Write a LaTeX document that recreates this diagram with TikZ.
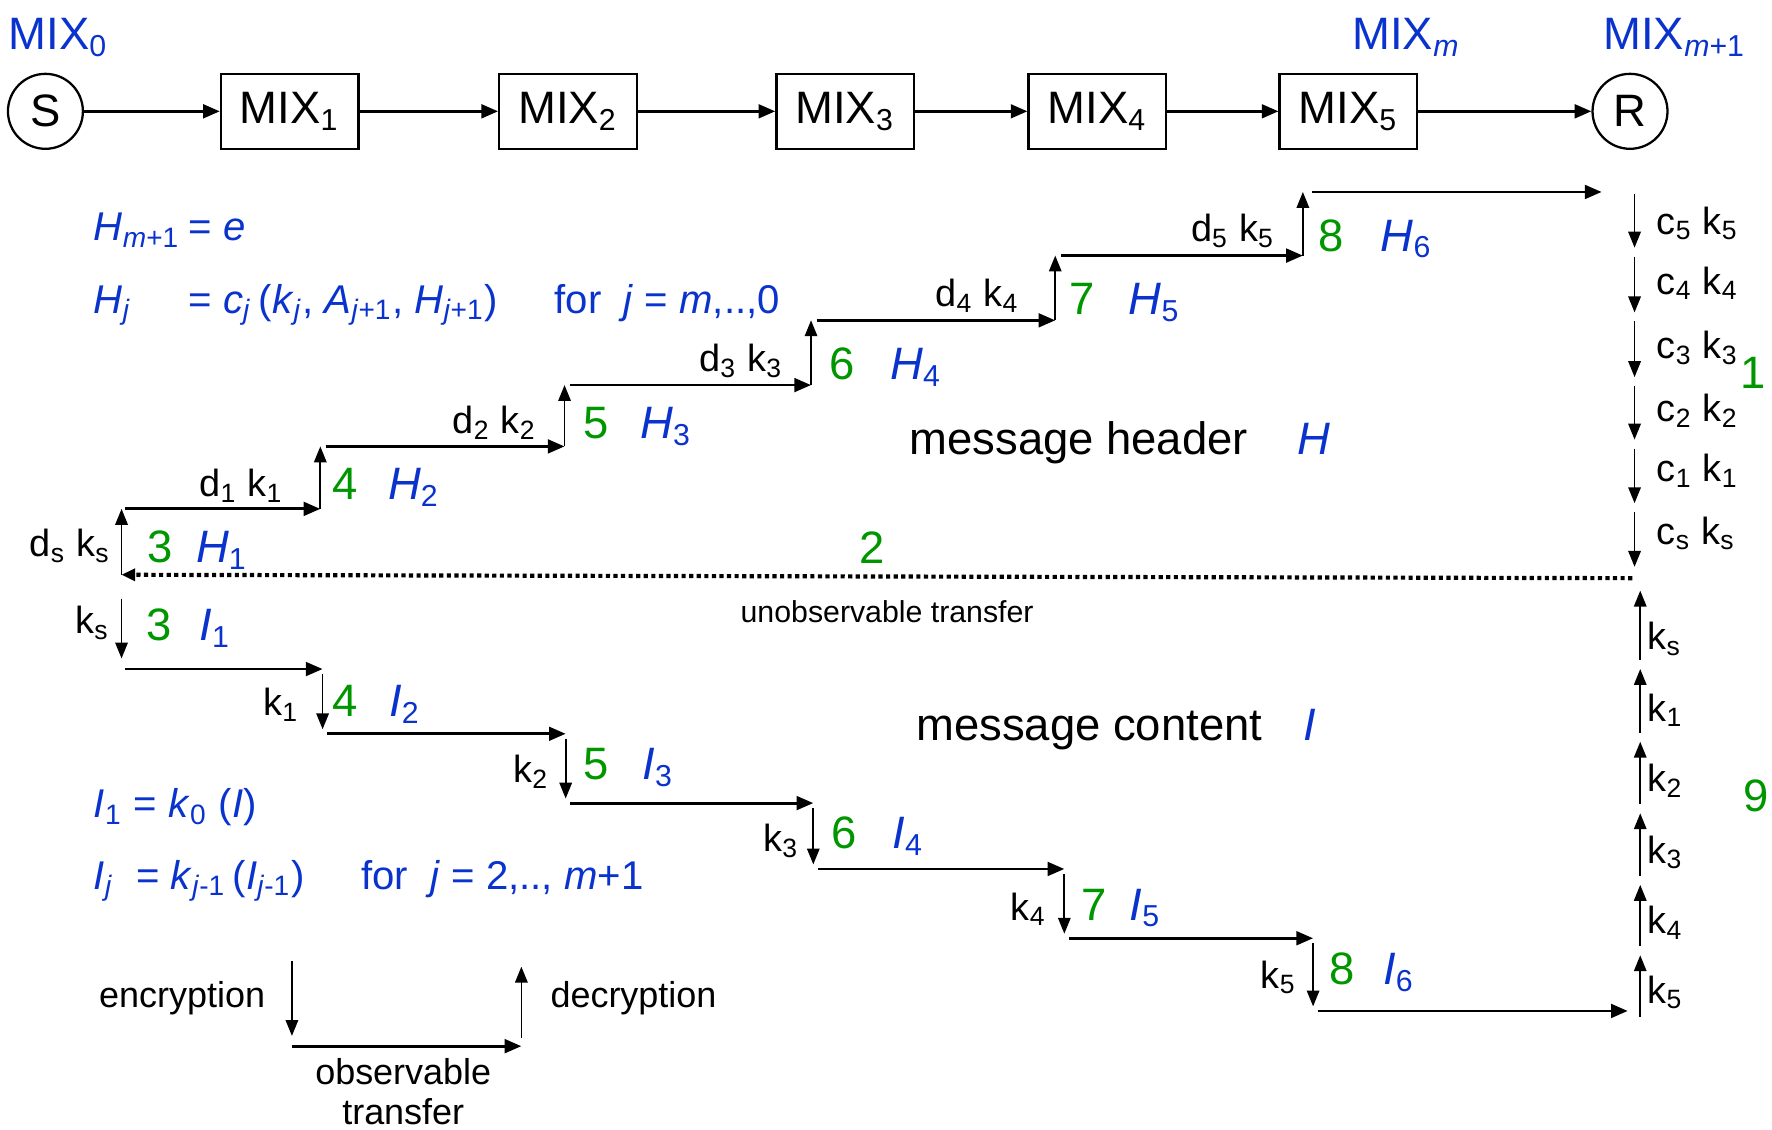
\documentclass[tikz,border=0pt]{standalone}
\usepackage{fontspec}
\setmainfont{Liberation Sans}
\usetikzlibrary{positioning,arrows.meta}
\definecolor{mixblue}{RGB}{10,50,205}
\definecolor{stepgreen}{RGB}{0,150,0}
\newcommand{\sbs}[1]{\textsubscript{#1}}
\tikzset{
  mixbox/.style={draw, line width=0.6pt, minimum width=36.3pt, minimum height=19.8pt, inner sep=0pt, font=\fontsize{12}{14}\selectfont},
  endcircle/.style={circle, draw, line width=0.6pt, minimum size=19.8pt, inner sep=0pt, font=\fontsize{12}{14}\selectfont},
  fwd/.style={-{Triangle[length=4.4pt,width=3.6pt]}, line width=0.75pt},
  keyarrow/.style={-{Triangle[length=4.2pt,width=3.3pt]}, line width=0.45pt},
  hidden/.style={-{Triangle[length=3.6pt,width=3.2pt]}, line width=1.1pt, dash pattern=on 1.1pt off 0.9pt},
  bigtext/.style={inner sep=0pt, font=\fontsize{12}{14}\selectfont},
  formula/.style={inner sep=0pt, text=mixblue, font=\fontsize{10.6}{13}\selectfont},
  lbl/.style={inner sep=0pt, font=\fontsize{10}{12}\selectfont},
  legendtext/.style={inner sep=0pt, font=\fontsize{9.5}{11}\selectfont},
  notetext/.style={inner sep=0pt, font=\fontsize{8}{10}\selectfont},
  stepno/.style={bigtext, text=stepgreen},
  hname/.style={bigtext, text=mixblue},
}

\begin{document}
\begin{tikzpicture}[x=0.3pt, y=-0.3pt]
  \useasboundingbox (0,0) rectangle (1560,994);

  % mix cascade
  \node[endcircle] (S) at (40,98) {S};
  \node[mixbox] (mix1) at (255,98) {MIX\sbs{1}};
  \node[mixbox] (mix2) at (500,98) {MIX\sbs{2}};
  \node[mixbox] (mix3) at (744,98) {MIX\sbs{3}};
  \node[mixbox] (mix4) at (966,98) {MIX\sbs{4}};
  \node[mixbox] (mix5) at (1187,98) {MIX\sbs{5}};
  \node[endcircle] (R) at (1435,98) {R};
  \node[hname, anchor=base west] (mix0lbl) at (7,44) {MIX\sbs{0}};
  \node[hname, anchor=base west] (mixmlbl) at (1190,44) {MIX\sbs{\textit{m}}};
  \node[hname, anchor=base west] (mixnlbl) at (1411,44) {MIX\sbs{\textit{m}+1}};

  \draw[fwd] (S) -- (mix1);
  \draw[fwd] (mix1) -- (mix2);
  \draw[fwd] (mix2) -- (mix3);
  \draw[fwd] (mix3) -- (mix4);
  \draw[fwd] (mix4) -- (mix5);
  \draw[fwd] (mix5) -- (R);

  % header formulas
  \node[formula, anchor=base west] (hform1) at (82,212) {\makebox[25pt][l]{\textit{H}\sbs{\textit{m}+1}}= \textit{e}};
  \node[formula, anchor=base west] (hform2) at (82,276) {\makebox[25pt][l]{\textit{H}\sbs{\textit{j}}}= \textit{c}\sbs{\textit{j}}\,(\textit{k}\sbs{\textit{j}}, \textit{A}\sbs{\textit{j}+1}, \textit{H}\sbs{\textit{j}+1})\hspace{15pt}for \ \textit{j} = \textit{m},..,0};

  % header steps (decryption)
  \coordinate (hb1) at (107,506);
  \coordinate (ht1) at (107,448);
  \coordinate (hb2) at (282,448);
  \coordinate (ht2) at (282,393);
  \coordinate (hb3) at (497,393);
  \coordinate (ht3) at (497,339);
  \coordinate (hb4) at (714,339);
  \coordinate (ht4) at (714,282);
  \coordinate (hb5) at (929,282);
  \coordinate (ht5) at (929,225);
  \coordinate (hb6) at (1147,225);
  \coordinate (ht6) at (1147,169);
  \coordinate (hend) at (1410,169);

  \draw[keyarrow] (hb1) -- (ht1);
  \draw[fwd, shorten <=1pt] (ht1) -- (hb2);
  \draw[keyarrow] (hb2) -- (ht2);
  \draw[fwd, shorten <=1.5pt] (ht2) -- (hb3);
  \draw[keyarrow] (hb3) -- (ht3);
  \draw[fwd, shorten <=1.5pt] (ht3) -- (hb4);
  \draw[keyarrow] (hb4) -- (ht4);
  \draw[fwd, shorten <=1.5pt] (ht4) -- (hb5);
  \draw[keyarrow] (hb5) -- (ht5);
  \draw[fwd, shorten <=1.5pt] (ht5) -- (hb6);
  \draw[keyarrow] (hb6) -- (ht6);
  \draw[fwd, shorten <=2.5pt] (ht6) -- (hend);

  \node[lbl, anchor=base east] (dks) at (98,490) {d\sbs{s} k\sbs{s}};
  \node[lbl, anchor=base east] (dk1) at (250,437) {d\sbs{1} k\sbs{1}};
  \node[lbl, anchor=base east] (dk2) at (473,382) {d\sbs{2} k\sbs{2}};
  \node[lbl, anchor=base east] (dk3) at (690,327) {d\sbs{3} k\sbs{3}};
  \node[lbl, anchor=base east] (dk4) at (898,270) {d\sbs{4} k\sbs{4}};
  \node[lbl, anchor=base east] (dk5) at (1123,213) {d\sbs{5} k\sbs{5}};

  \node[stepno, anchor=base west] (hn3) at (129,495) {3};
  \node[hname, anchor=base west] (H1) at (172,495) {\textit{H}\sbs{1}};
  \node[stepno, anchor=base west] (hn4) at (292,440) {4};
  \node[hname, anchor=base west] (H2) at (341,440) {\textit{H}\sbs{2}};
  \node[stepno, anchor=base west] (hn5) at (513,386) {5};
  \node[hname, anchor=base west] (H3) at (563,386) {\textit{H}\sbs{3}};
  \node[stepno, anchor=base west] (hn6) at (730,334) {6};
  \node[hname, anchor=base west] (H4) at (783,334) {\textit{H}\sbs{4}};
  \node[stepno, anchor=base west] (hn7) at (941,277) {7};
  \node[hname, anchor=base west] (H5) at (993,277) {\textit{H}\sbs{5}};
  \node[stepno, anchor=base west] (hn8) at (1160,221) {8};
  \node[hname, anchor=base west] (H6) at (1215,221) {\textit{H}\sbs{6}};

  \node[bigtext, anchor=base west] (header) at (800,400) {message header\hspace{13pt}{\color{mixblue}\textit{H}}};

  % encryption of the header at the sender
  \coordinate (cc0) at (1439,167);
  \coordinate (cc1) at (1439,222);
  \coordinate (cc2) at (1439,279);
  \coordinate (cc3) at (1439,336);
  \coordinate (cc4) at (1439,391);
  \coordinate (cc5) at (1439,447);
  \coordinate (cc6) at (1439,503);
  \draw[keyarrow, shorten <=1.2pt, shorten >=1.2pt] (cc0) -- (cc1);
  \draw[keyarrow, shorten <=1.2pt, shorten >=1.2pt] (cc1) -- (cc2);
  \draw[keyarrow, shorten <=1.2pt, shorten >=1.2pt] (cc2) -- (cc3);
  \draw[keyarrow, shorten <=1.2pt, shorten >=1.2pt] (cc3) -- (cc4);
  \draw[keyarrow, shorten <=1.2pt, shorten >=1.2pt] (cc4) -- (cc5);
  \draw[keyarrow, shorten <=1.2pt, shorten >=1.2pt] (cc5) -- (cc6);
  \node[lbl, anchor=base west] (ck5) at (1458,206) {c\sbs{5} k\sbs{5}};
  \node[lbl, anchor=base west] (ck4) at (1458,259) {c\sbs{4} k\sbs{4}};
  \node[lbl, anchor=base west] (ck3) at (1458,316) {c\sbs{3} k\sbs{3}};
  \node[lbl, anchor=base west] (ck2) at (1458,371) {c\sbs{2} k\sbs{2}};
  \node[lbl, anchor=base west] (ck1) at (1458,424) {c\sbs{1} k\sbs{1}};
  \node[lbl, anchor=base west] (cks) at (1458,479) {c\sbs{s} k\sbs{s}};
  \node[stepno, anchor=base west] (n1) at (1532,342) {1};

  % unobservable transfer
  \coordinate (sendl) at (1437,509);
  \draw[hidden] (sendl) -- (hb1);
  \node[stepno, anchor=base west] (n2) at (756,496) {2};
  \node[notetext, anchor=base] (unobs) at (781,548) {unobservable transfer};

  % content steps
  \coordinate (ct1) at (107,527);
  \coordinate (cb1) at (107,589);
  \coordinate (cb2) at (284,646);
  \coordinate (cb3) at (498,707);
  \coordinate (cb4) at (716,765);
  \coordinate (cb5) at (937,826);
  \coordinate (cb6) at (1156,890);
  \coordinate (cend) at (1433,890);

  \draw[keyarrow, shorten >=2.8pt] (ct1) -- (cb1);
  \draw[fwd, shorten <=1pt] (cb1) -- (cb1 -| cb2);
  \draw[keyarrow, shorten <=1.3pt, shorten >=1.2pt] (cb1 -| cb2) -- (cb2);
  \draw[fwd, shorten <=1.2pt] (cb2) -- (cb2 -| cb3);
  \draw[keyarrow, shorten <=1.3pt, shorten >=1.2pt] (cb2 -| cb3) -- (cb3);
  \draw[fwd, shorten <=1.2pt] (cb3) -- (cb3 -| cb4);
  \draw[keyarrow, shorten <=1.3pt, shorten >=1.2pt] (cb3 -| cb4) -- (cb4);
  \draw[fwd, shorten <=1.2pt] (cb4) -- (cb4 -| cb5);
  \draw[keyarrow, shorten <=1.3pt, shorten >=1.2pt] (cb4 -| cb5) -- (cb5);
  \draw[fwd, shorten <=1.2pt] (cb5) -- (cb5 -| cb6);
  \draw[keyarrow, shorten <=1.3pt, shorten >=1.2pt] (cb5 -| cb6) -- (cb6);
  \draw[fwd, shorten <=1.2pt] (cb6) -- (cend);

  \node[lbl, anchor=base east] (ks) at (97,558) {k\sbs{s}};
  \node[lbl, anchor=base east] (k1) at (264,630) {k\sbs{1}};
  \node[lbl, anchor=base east] (k2) at (484,689) {k\sbs{2}};
  \node[lbl, anchor=base east] (k3) at (704,750) {k\sbs{3}};
  \node[lbl, anchor=base east] (k4) at (922,810) {k\sbs{4}};
  \node[lbl, anchor=base east] (k5) at (1142,870) {k\sbs{5}};

  \node[stepno, anchor=base west] (cn3) at (128,564) {3};
  \node[hname, anchor=base west] (I1) at (175,564) {\textit{I}\sbs{1}};
  \node[stepno, anchor=base west] (cn4) at (292,631) {4};
  \node[hname, anchor=base west] (I2) at (342,631) {\textit{I}\sbs{2}};
  \node[stepno, anchor=base west] (cn5) at (513,686) {5};
  \node[hname, anchor=base west] (I3) at (565,686) {\textit{I}\sbs{3}};
  \node[stepno, anchor=base west] (cn6) at (731,747) {6};
  \node[hname, anchor=base west] (I4) at (785,747) {\textit{I}\sbs{4}};
  \node[stepno, anchor=base west] (cn7) at (951,810) {7};
  \node[hname, anchor=base west] (I5) at (994,810) {\textit{I}\sbs{5}};
  \node[stepno, anchor=base west] (cn8) at (1170,867) {8};
  \node[hname, anchor=base west] (I6) at (1217,867) {\textit{I}\sbs{6}};

  \node[bigtext, anchor=base west] (content) at (806,652) {message content\hspace{11pt}{\color{mixblue}\textit{I}}};

  % content formulas
  \node[formula, anchor=base west] (iform1) at (82,720) {\textit{I}\sbs{1} = \textit{k}\sbs{0} (\textit{I})};
  \node[formula, anchor=base west] (iform2) at (82,783) {\textit{I}\sbs{\textit{j}}\ \ = \textit{k}\sbs{\textit{j}-1}\,(\textit{I}\sbs{\textit{j}-1})\hspace{15pt}for \ \textit{j} = 2,.., \textit{m}+1};

  % decryption of the content at the receiver
  \coordinate (kk0) at (1444,899);
  \coordinate (kk1) at (1444,837);
  \coordinate (kk2) at (1444,775);
  \coordinate (kk3) at (1444,712);
  \coordinate (kk4) at (1444,649);
  \coordinate (kk5) at (1444,585);
  \coordinate (kk6) at (1444,516);
  \draw[keyarrow, shorten <=1.2pt, shorten >=1.2pt] (kk0) -- (kk1);
  \draw[keyarrow, shorten <=1.2pt, shorten >=1.2pt] (kk1) -- (kk2);
  \draw[keyarrow, shorten <=1.2pt, shorten >=1.2pt] (kk2) -- (kk3);
  \draw[keyarrow, shorten <=1.2pt, shorten >=1.2pt] (kk3) -- (kk4);
  \draw[keyarrow, shorten <=1.2pt, shorten >=1.2pt] (kk4) -- (kk5);
  \draw[keyarrow, shorten <=1.2pt, shorten >=1.2pt] (kk5) -- (kk6);
  \node[lbl, anchor=base west] (rks) at (1450,572) {k\sbs{s}};
  \node[lbl, anchor=base west] (rk1) at (1450,635) {k\sbs{1}};
  \node[lbl, anchor=base west] (rk2) at (1450,697) {k\sbs{2}};
  \node[lbl, anchor=base west] (rk3) at (1450,760) {k\sbs{3}};
  \node[lbl, anchor=base west] (rk4) at (1450,822) {k\sbs{4}};
  \node[lbl, anchor=base west] (rk5) at (1450,883) {k\sbs{5}};
  \node[stepno, anchor=base west] (n9) at (1534,714) {9};

  % legend
  \coordinate (enct) at (257,846);
  \coordinate (encb) at (257,912);
  \coordinate (decb) at (459,914);
  \coordinate (dect) at (459,851);
  \draw[keyarrow] (enct) -- (encb);
  \draw[fwd] (257,921) coordinate (obsl) -- (459,921) coordinate (obsr);
  \draw[keyarrow] (decb) -- (dect);
  \node[legendtext, anchor=base east] (enc) at (234,887) {encryption};
  \node[legendtext, anchor=base west] (dec) at (484,887) {decryption};
  \node[legendtext, anchor=base] (obs) at (355,955) {observable};
  \node[legendtext, anchor=base] (obs2) at (355,990) {transfer};
\end{tikzpicture}
\end{document}
